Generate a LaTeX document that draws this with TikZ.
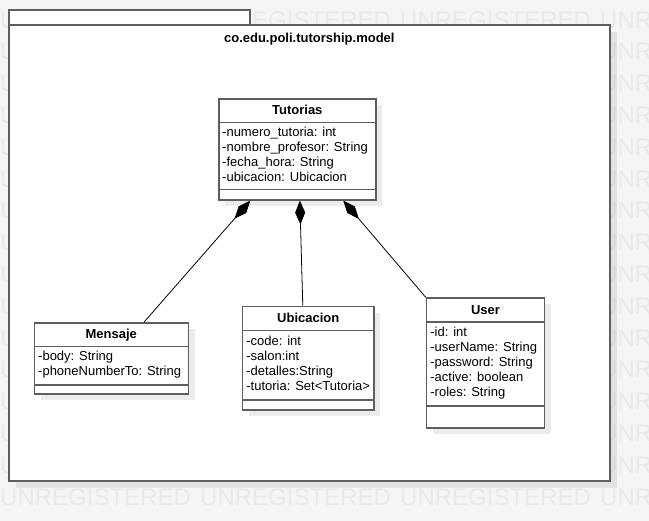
\documentclass[tikz,border=0pt]{standalone}
\usepackage{fontspec}
\setmainfont{Liberation Sans}
\usetikzlibrary{arrows.meta,calc}
\definecolor{bgc}{HTML}{F5F5F5}
\definecolor{wmc}{HTML}{EAEAEA}
\definecolor{bdc}{HTML}{5E5E5E}
\tikzset{
  cls/.style={draw=bdc, line width=1.6pt, fill=white, inner sep=0pt, anchor=north west},
  sepline/.style={draw=bdc, line width=1.6pt},
  shadowfill/.style={fill=black, fill opacity=0.075},
  ctitle/.style={font=\bfseries\fontsize{13}{15}\selectfont, anchor=base, inner sep=0pt},
  attr/.style={font=\fontsize{13}{15}\selectfont, anchor=base west, inner sep=0pt},
  comp/.style={draw=black, line width=0.8pt, {Diamond[length=24pt,width=10pt]}-},
  wm/.style={font=\fontsize{24}{24}\selectfont, text=wmc, anchor=west, inner sep=0pt},
}
\begin{document}
\begin{tikzpicture}[x=1pt,y=-1pt]
\useasboundingbox (0,0) rectangle (649,521);
\fill[bgc] (0,0) rectangle (649,521);
% watermark (only the parts that are visible)
\foreach \c in {0,1,2}{
  \node[wm] (wmtop-\c) at (200*\c, 20) {UNREGISTERED};
  \node[wm] (wmbot-\c) at (200*\c, 497) {UNREGISTERED};
}
\node[wm] (wmtop-3) at (600, 20) {UNR};
\node[wm] (wmbot-3) at (600, 497) {UNR};
\foreach \r in {1,...,14}{
  \node[wm] (wml-\r) at (0, 20+31.8*\r) {U};
  \node[wm] (wmr-\r) at (600, 20+31.8*\r) {UNR};
}
% package
\fill[shadowfill] (16,32) rectangle (617,488);
\node[cls, minimum width=241pt, minimum height=14.5pt] (tab) at (8,9.5) {};
\node[cls, minimum width=601pt, minimum height=456pt] (pkg) at (8,24) {};
\node[ctitle] (pkgT) at ($(pkg.north)+(0,18.5)$) {co.edu.poli.tutorship.model};

% Tutorias
\fill[shadowfill] (225,105) rectangle (382,206);
\node[cls, minimum width=157pt, minimum height=101pt] (tut) at (218,98) {};
\draw[sepline] ($(tut.north west)+(0,24.5)$) -- ($(tut.north east)+(0,24.5)$);
\draw[sepline] ($(tut.north west)+(0,91.5)$) -- ($(tut.north east)+(0,91.5)$);
\node[ctitle] (tutT) at ($(tut.north)+(0,17)$) {Tutorias};
\node[attr] (tutA1) at ($(tut.north west)+(4,39)$) {-numero\_tutoria: int};
\node[attr] (tutA2) at ($(tut.north west)+(4,54)$) {-nombre\_profesor: String};
\node[attr] (tutA3) at ($(tut.north west)+(4,69)$) {-fecha\_hora: String};
\node[attr] (tutA4) at ($(tut.north west)+(4,84)$) {-ubicacion: Ubicacion};

% Mensaje
\fill[shadowfill] (40.5,329) rectangle (194.5,400);
\node[cls, minimum width=154pt, minimum height=71pt] (mens) at (33.5,322) {};
\draw[sepline] ($(mens.north west)+(0,24.7)$) -- ($(mens.north east)+(0,24.7)$);
\draw[sepline] ($(mens.north west)+(0,63)$) -- ($(mens.north east)+(0,63)$);
\node[ctitle] (mensT) at ($(mens.north)+(0,17)$) {Mensaje};
\node[attr] (mensA1) at ($(mens.north west)+(4.5,39)$) {-body: String};
\node[attr] (mensA2) at ($(mens.north west)+(4.5,54)$) {-phoneNumberTo: String};

% Ubicacion
\fill[shadowfill] (248.7,312.7) rectangle (380.2,416.3);
\node[cls, minimum width=131.5pt, minimum height=103.6pt] (ubi) at (241.7,305.7) {};
\draw[sepline] ($(ubi.north west)+(0,25)$) -- ($(ubi.north east)+(0,25)$);
\draw[sepline] ($(ubi.north west)+(0,94.5)$) -- ($(ubi.north east)+(0,94.5)$);
\node[ctitle] (ubiT) at ($(ubi.north)+(0,17)$) {Ubicacion};
\node[attr] (ubiA1) at ($(ubi.north west)+(4.5,40)$) {-code: int};
\node[attr] (ubiA2) at ($(ubi.north west)+(4.5,55)$) {-salon:int};
\node[attr] (ubiA3) at ($(ubi.north west)+(4.5,70)$) {-detalles:String};
\node[attr] (ubiA4) at ($(ubi.north west)+(4.5,85)$) {-tutoria: Set<Tutoria>};

% User
\fill[shadowfill] (432.7,304.3) rectangle (550.7,434.3);
\node[cls, minimum width=118pt, minimum height=130pt] (user) at (425.7,297.3) {};
\draw[sepline] ($(user.north west)+(0,25)$) -- ($(user.north east)+(0,25)$);
\draw[sepline] ($(user.north west)+(0,108.7)$) -- ($(user.north east)+(0,108.7)$);
\node[ctitle] (userT) at ($(user.north)+(0,17)$) {User};
\node[attr] (userA1) at ($(user.north west)+(4.5,39.5)$) {-id: int};
\node[attr] (userA2) at ($(user.north west)+(4.5,54.5)$) {-userName: String};
\node[attr] (userA3) at ($(user.north west)+(4.5,69.5)$) {-password: String};
\node[attr] (userA4) at ($(user.north west)+(4.5,84.5)$) {-active: boolean};
\node[attr] (userA5) at ($(user.north west)+(4.5,99.5)$) {-roles: String};

% compositions
\draw[comp] ($(tut.south west)!0.204!(tut.south east)$) -- ($(mens.north west)!0.711!(mens.north east)$);
\draw[comp] ($(tut.south west)!0.516!(tut.south east)$) -- ($(ubi.north west)!0.459!(ubi.north east)$);
\draw[comp] ($(tut.south west)!0.79!(tut.south east)$) -- (user.north west);
\end{tikzpicture}
\end{document}
